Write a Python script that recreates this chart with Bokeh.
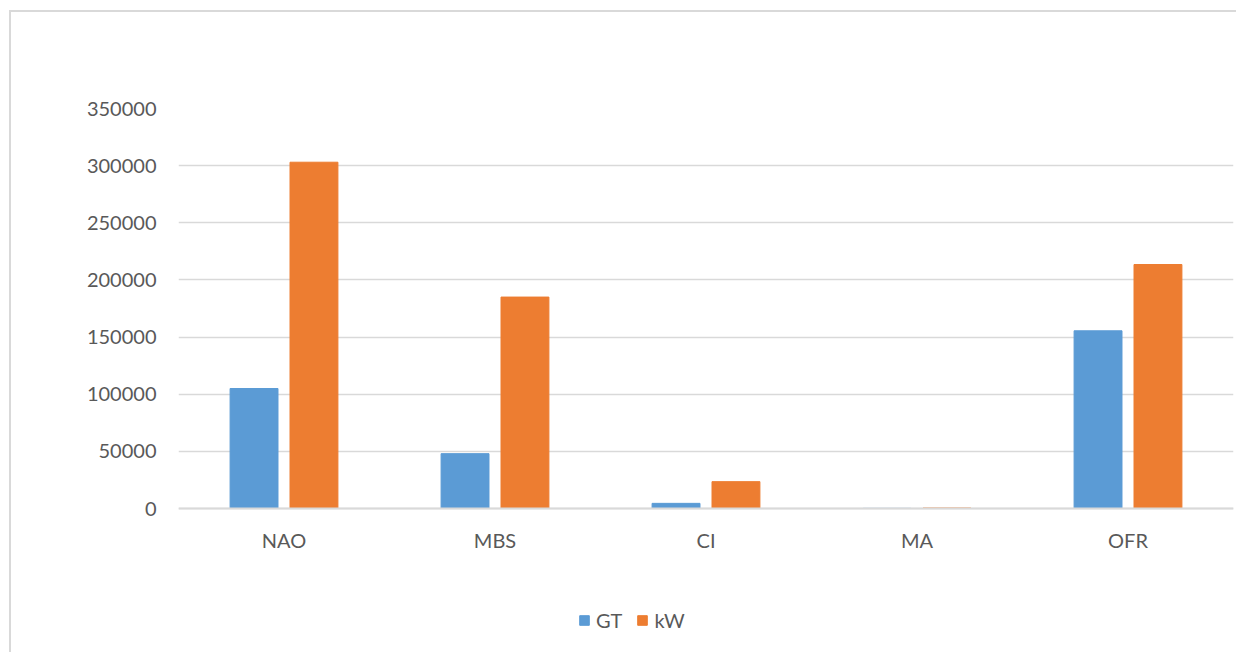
from bokeh.plotting import figure
from bokeh.models import (ColumnDataSource, FactorRange, Range1d, FixedTicker,
                          NumeralTickFormatter, Legend, LegendItem, InlineStyleSheet,
                          Span)
from bokeh.core.properties import value
from bokeh.transform import dodge
from bokeh.embed import file_html
from bokeh.resources import INLINE

# Capacity by segment: gross tonnage and engine power
categories = ["NAO", "MBS", "CI", "MA", "OFR"]
gt_values = [105000, 48000, 4500, 100, 155500]
kw_values = [303000, 185000, 23500, 400, 213500]
y_ticks = [0, 50000, 100000, 150000, 200000, 250000, 300000, 350000]

FONT = "Lato"
GREY_TEXT = "#595959"
GRID = "#D9D9D9"
BLUE = "#5B9BD5"
ORANGE = "#ED7D31"

Y_MAX = 350000
PLOT_TOP = 108          # px from top of canvas to the 350000 line
PLOT_HEIGHT = 400       # px between the 0 and 350000 lines
CANVAS_H = 652
UNITS_PER_PX = Y_MAX / PLOT_HEIGHT
# the frame runs to the canvas bottom so that the category labels and legend
# can sit beneath the zero line
y_start = -(CANVAS_H - PLOT_TOP - PLOT_HEIGHT) * UNITS_PER_PX
label_y = -31 * UNITS_PER_PX

source = ColumnDataSource(dict(cat=categories, gt=gt_values, kw=kw_values))
label_source = ColumnDataSource(dict(cat=categories, y=[label_y] * len(categories)))

p = figure(width=1236, height=CANVAS_H, output_backend="svg", toolbar_location=None,
           x_range=FactorRange(*categories), y_range=Range1d(y_start, Y_MAX),
           min_border_left=178, min_border_right=3, min_border_top=PLOT_TOP,
           min_border_bottom=0)
p.x_range.range_padding = 0

gt_r = p.vbar(x=dodge("cat", -0.142, range=p.x_range), top="gt", width=0.227,
              source=source, fill_color=BLUE, line_color=BLUE)
kw_r = p.vbar(x=dodge("cat", 0.142, range=p.x_range), top="kw", width=0.227,
              source=source, fill_color=ORANGE, line_color=ORANGE)

# category labels under the zero line
p.text(x="cat", y="y", text="cat", source=label_source, text_align="center",
       text_baseline="middle", text_font=value(FONT), text_font_size="20px",
       text_color=GREY_TEXT)

# value axis
p.yaxis.ticker = FixedTicker(ticks=y_ticks)
p.yaxis.formatter = NumeralTickFormatter(format="0")
p.yaxis.axis_line_color = None
p.yaxis.major_tick_line_color = None
p.yaxis.minor_tick_line_color = None
p.yaxis.major_tick_out = 0
p.yaxis.major_label_standoff = 22
p.yaxis.major_label_text_font = FONT
p.yaxis.major_label_text_font_size = "20px"
p.yaxis.major_label_text_color = GREY_TEXT

p.xaxis.visible = False
p.xgrid.grid_line_color = None
p.ygrid.grid_line_color = GRID
p.ygrid.grid_line_width = 1.5
p.outline_line_color = None

# category baseline
p.add_layout(Span(location=0, dimension="width", line_color=GRID, line_width=2))

# legend beneath the categories
legend = Legend(items=[LegendItem(label="GT", renderers=[gt_r]),
                       LegendItem(label="kW", renderers=[kw_r])],
                orientation="horizontal", location=(400, 20),
                glyph_width=12, glyph_height=12, label_standoff=6, spacing=14,
                padding=0, margin=0, border_line_color=None,
                background_fill_alpha=0,
                label_text_font=FONT, label_text_font_size="20px",
                label_text_color=GREY_TEXT)
p.add_layout(legend, "center")

# chart box outline (left and top edges)
p.stylesheets = [InlineStyleSheet(css="""
:host::after {
  content: "";
  position: absolute;
  left: 9px; top: 10px; right: 0; bottom: 0;
  border-left: 2px solid #D9D9D9;
  border-top: 2px solid #D9D9D9;
  pointer-events: none;
}
""")]

open("out.html", "w").write(file_html(p, INLINE))
